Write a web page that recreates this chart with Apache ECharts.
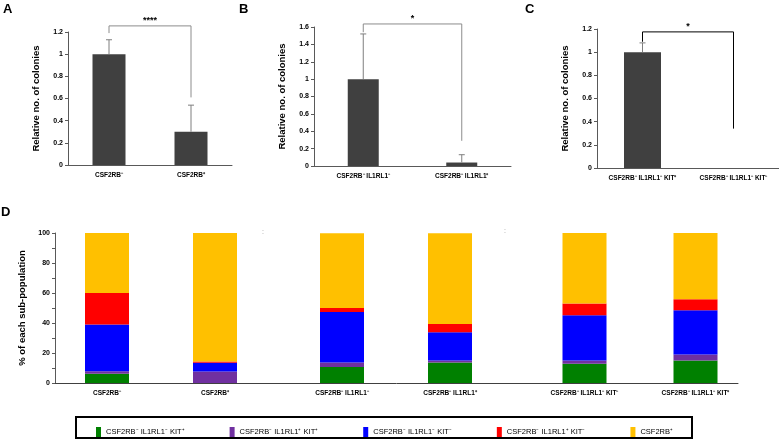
<!DOCTYPE html>
<html><head><meta charset="utf-8">
<script src="https://cdn.jsdelivr.net/npm/echarts@6/dist/echarts.min.js"></script>
<style>html,body{margin:0;padding:0;background:#fff}#c{width:779px;height:441px}</style>
</head><body><div id="c"></div>
<script>
// ---- Panel A ----
const catsA = ['CSF2RB⁻', 'CSF2RB⁺'];
const valsA = [1.0, 0.30];
const errTopA = [1.13, 0.54];
const sigA = [1.255, 1.19, 0.61];   // bracket level, left leg end, right leg end
const starA = '****';
const ticksA = [0, 0.2, 0.4, 0.6, 0.8, 1, 1.2];

// ---- Panel B ----
const catsB = ['CSF2RB⁻ IL1RL1⁻', 'CSF2RB⁻ IL1RL1⁺'];
const valsB = [1.0, 0.04];
const errTopB = [1.52, 0.13];
const sigB = [1.635, 1.54, 0.29];
const starB = '*';
const ticksB = [0, 0.2, 0.4, 0.6, 0.8, 1, 1.2, 1.4, 1.6];

// ---- Panel C ----
const catsC = ['CSF2RB⁻ IL1RL1⁻ KIT⁺', 'CSF2RB⁻ IL1RL1⁻ KIT⁻'];
const valsC = [1.0, 0];
const errTopC = [1.08, null];
const sigC = [1.175, 1.09, 0.34];
const starC = '*';
const ticksC = [0, 0.2, 0.4, 0.6, 0.8, 1, 1.2];

// ---- Panel D ----
const catsD = ['CSF2RB⁻', 'CSF2RB⁺', 'CSF2RB⁻ IL1RL1⁻', 'CSF2RB⁻ IL1RL1⁺', 'CSF2RB⁻ IL1RL1⁻ KIT⁻', 'CSF2RB⁻ IL1RL1⁻ KIT⁺'];
const namesD = ['CSF2RB⁻ IL1RL1⁻ KIT⁺', 'CSF2RB⁻ IL1RL1⁺ KIT⁺', 'CSF2RB⁻ IL1RL1⁻ KIT⁻', 'CSF2RB⁻ IL1RL1⁺ KIT⁻', 'CSF2RB⁺'];
const greenD  = [6.2, 0,   10.6, 13.7, 12.8, 15.0];
const purpleD = [1.6, 7.7, 3.1,  1.3,  2.2,  4.0];
const blueD   = [31.2, 5.8, 33.7, 18.8, 30.2, 29.5];
const redD    = [21.0, 0.9, 2.6,  5.5,  7.8,  7.3];
const yellowD = [40.0, 85.6, 49.8, 60.5, 47.0, 44.2];
const ticksD = [0, 20, 40, 60, 80, 100];

const FONT = 'Liberation Sans, Arial, sans-serif';
const colorsD = ['#008000', '#7030A0', '#0000FF', '#FF0000', '#FFC000'];
const seriesD = [greenD, purpleD, blueD, redD, yellowD];

function errRender(params, api) {
  const top = api.value(2);
  if (top === null || isNaN(top)) return;
  const b = api.coord([api.value(0), api.value(1)]);
  const t = api.coord([api.value(0), top]);
  const st = {stroke: '#7f7f7f', lineWidth: 1};
  return {type: 'group', children: [
    {type: 'line', shape: {x1: t[0], y1: b[1], x2: t[0], y2: t[1]}, style: st},
    {type: 'line', shape: {x1: t[0] - 3, y1: t[1], x2: t[0] + 3, y2: t[1]}, style: st}
  ]};
}
function bracketRender(color, label) {
  return function (params, api) {
    const lvl = api.value(1), l = api.value(2), r = api.value(3);
    const p0 = api.coord([0, lvl]), p1 = api.coord([1, lvl]);
    const l0 = api.coord([0, l]), r0 = api.coord([1, r]);
    return {type: 'group', children: [
      {type: 'polyline', shape: {points: [[p0[0], l0[1]], [p0[0], p0[1]], [p1[0], p1[1]], [p1[0], r0[1]]]},
       style: {stroke: color, lineWidth: 1, fill: null}},
      {type: 'text', style: {text: label, x: (p0[0] + p1[0]) / 2, y: p0[1] - 1, align: 'center',
        verticalAlign: 'bottom', font: 'bold 9px ' + FONT, fill: '#000'}}
    ]};
  };
}

const grids = [
  {left: 68, top: 32, width: 164, height: 133},
  {left: 314, top: 27, width: 197, height: 139},
  {left: 597, top: 29, width: 189, height: 139},
  {left: 55, top: 233, width: 683, height: 150},   // D axis frame
  {left: 53, top: 233, width: 216, height: 150},
  {left: 288, top: 233, width: 216, height: 150},
  {left: 529, top: 233, width: 222, height: 150}
];

const axisLineStyle = {lineStyle: {color: '#595959', width: 1}};
function catAxis(gi, data, show) {
  return {type: 'category', gridIndex: gi, data: data,
    axisLine: show ? axisLineStyle : {show: false}, axisTick: {show: false},
    axisLabel: {fontSize: 6.5, fontWeight: 'bold', color: '#000', fontFamily: FONT, margin: 7, interval: 0}};
}
function valAxis(gi, ticks, name) {
  const step = ticks[1] - ticks[0];
  return {type: 'value', gridIndex: gi, min: ticks[0], max: ticks[ticks.length - 1], interval: step,
    splitLine: {show: false}, axisLine: {show: true, lineStyle: {color: '#595959'}},
    axisTick: {show: true, length: 3, lineStyle: {color: '#595959'}},
    axisLabel: {fontSize: 7, fontWeight: 'bold', color: '#000', fontFamily: FONT, margin: 5},
    name: name, nameLocation: 'middle', nameGap: 27, nameRotate: 90,
    nameTextStyle: {fontSize: 9.5, fontWeight: 'bold', color: '#000', fontFamily: FONT}};
}

const xAxes = [
  catAxis(0, catsA, true), catAxis(1, catsB, true), catAxis(2, catsC, true),
  {type: 'value', gridIndex: 3, min: 0, max: 1, axisLine: {show: true, lineStyle: {color: '#404040'}},
   axisTick: {show: false}, axisLabel: {show: false}, splitLine: {show: false}},
  catAxis(4, catsD.slice(0, 2), false), catAxis(5, catsD.slice(2, 4), false), catAxis(6, catsD.slice(4, 6), false)
];
const yD = valAxis(3, [0, 10, 20, 30, 40, 50, 60, 70, 80, 90, 100], '% of each sub-population');
yD.axisLabel.formatter = v => (ticksD.indexOf(v) >= 0 ? String(v) : '');
yD.nameGap = 26;
const yAxes = [
  valAxis(0, ticksA, 'Relative no. of colonies'),
  valAxis(1, ticksB, 'Relative no. of colonies'),
  valAxis(2, ticksC, 'Relative no. of colonies'),
  yD
];
for (let g = 4; g < 7; g++) yAxes.push({type: 'value', gridIndex: g, min: 0, max: 100, show: false});

const series = [];
const barStyle = {color: '#404040'};
[[valsA, errTopA, sigA, starA, '#8c8c8c', 33], [valsB, errTopB, sigB, starB, '#8c8c8c', 31],
 [valsC, errTopC, sigC, starC, '#000', 37]].forEach((p, i) => {
  series.push({type: 'bar', xAxisIndex: i, yAxisIndex: i, data: p[0], barWidth: p[5], itemStyle: barStyle, z: 2});
  series.push({type: 'custom', xAxisIndex: i, yAxisIndex: i, renderItem: errRender, z: 3, clip: false,
    data: p[0].map((v, k) => [k, v, p[1][k] === null ? NaN : p[1][k]]), encode: {x: 0, y: [1, 2]}});
  series.push({type: 'custom', xAxisIndex: i, yAxisIndex: i, renderItem: bracketRender(p[4], p[3]), z: 3, clip: false,
    data: [[0, p[2][0], p[2][1], p[2][2]]], encode: {x: 0, y: [1, 2, 3]}});
});
for (let g = 0; g < 3; g++) {
  seriesD.forEach((arr, s) => {
    series.push({type: 'bar', name: namesD[s], stack: 'd' + g, xAxisIndex: 4 + g, yAxisIndex: 4 + g,
      data: arr.slice(2 * g, 2 * g + 2), barWidth: 44, itemStyle: {color: colorsD[s]}});
  });
}

const chart = echarts.init(document.getElementById('c'), null, {renderer: 'canvas'});
chart.setOption({
  animation: false,
  backgroundColor: '#fff',
  grid: grids,
  xAxis: xAxes,
  yAxis: yAxes,
  series: series,
  legend: {left: 91, top: 422, icon: 'rect', itemWidth: 5, itemHeight: 10, itemGap: 45,
    data: namesD, selectedMode: false,
    textStyle: {fontSize: 7.5, color: '#000', fontFamily: FONT}},
  graphic: [
    {type: 'rect', shape: {x: 76, y: 417, width: 616, height: 21}, style: {stroke: '#000', lineWidth: 2, fill: null}},
    {type: 'text', left: 3, top: 3, style: {text: 'A', font: 'bold 13px ' + FONT, fill: '#000'}},
    {type: 'text', left: 239, top: 3, style: {text: 'B', font: 'bold 13px ' + FONT, fill: '#000'}},
    {type: 'text', left: 525, top: 3, style: {text: 'C', font: 'bold 13px ' + FONT, fill: '#000'}},
    {type: 'text', left: 1, top: 206, style: {text: 'D', font: 'bold 13px ' + FONT, fill: '#000'}},
    {type: 'text', left: 262, top: 229, style: {text: ':', font: '7px ' + FONT, fill: '#999'}},
    {type: 'text', left: 504, top: 228, style: {text: ':', font: '7px ' + FONT, fill: '#999'}}
  ]
});
</script></body></html>
